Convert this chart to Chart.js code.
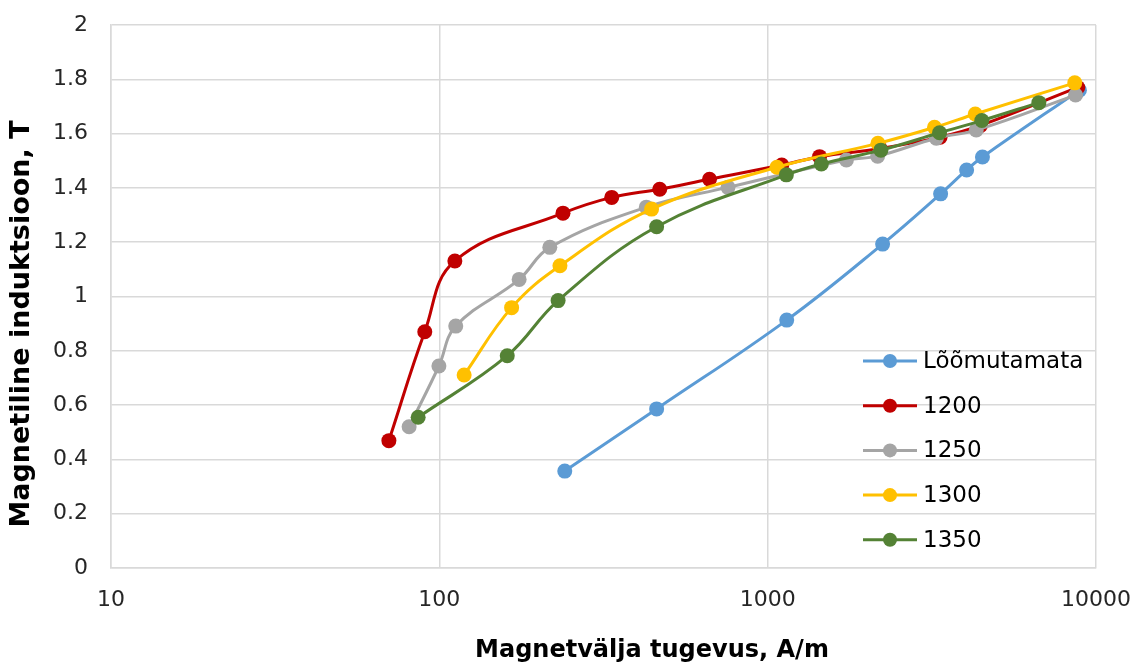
<!DOCTYPE html>
<html>
<head>
<meta charset="utf-8">
<script src="https://cdn.jsdelivr.net/npm/chart.js@4/dist/chart.umd.min.js"></script>
<style>
  html, body { margin: 0; padding: 0; background: #fff; }
  #wrap { width: 1137px; height: 664px; }
</style>
</head>
<body>
<div id="wrap"><canvas id="chart" width="1137" height="664"></canvas></div>
<script>
// values (x = field strength A/m, y = induction T)
const xTicks = [10, 100, 1000, 10000];

const annealedH = [241, 459, 1143, 2239, 3363, 4036, 4510, 8900];
const annealedB = [0.357, 0.586, 0.913, 1.193, 1.378, 1.466, 1.514, 1.760];

const h1200 = [70.2, 90.3, 111.5, 238, 335, 469, 665, 1104, 1439, 2200, 3350, 4450, 8800];
const b1200 = [0.469, 0.870, 1.131, 1.307, 1.365, 1.395, 1.432, 1.484, 1.515, 1.545, 1.587, 1.630, 1.770];

const h1250 = [80.9, 99.7, 112.2, 175, 217, 427, 757, 1737, 2162, 3263, 4318, 8665];
const b1250 = [0.520, 0.744, 0.891, 1.063, 1.181, 1.329, 1.402, 1.503, 1.517, 1.583, 1.613, 1.742];

const h1300 = [119, 166, 233, 443, 1067, 2167, 3222, 4288, 8617];
const b1300 = [0.711, 0.959, 1.113, 1.322, 1.476, 1.564, 1.623, 1.672, 1.787];

const h1350 = [86.2, 161, 230, 459, 1140, 1457, 2212, 3338, 4490, 6698];
const b1350 = [0.555, 0.782, 0.985, 1.257, 1.448, 1.488, 1.539, 1.603, 1.648, 1.714];

const seriesNames = ["Lõõmutamata", "1200", "1250", "1300", "1350"];
const seriesColors = ["#5B9BD5", "#C00000", "#A5A5A5", "#FFC000", "#548235"];

const xTitle = "Magnetvälja tugevus, A/m";
const yTitle = "Magnetiline induktsioon, T";

const FONT = "'DejaVu Sans', sans-serif";

function pts(xs, ys) {
    return xs.map((x, i) => ({ x: x, y: ys[i] }));
}

const allData = [
    pts(annealedH, annealedB),
    pts(h1200, b1200),
    pts(h1250, b1250),
    pts(h1300, b1300),
    pts(h1350, b1350)
];

const datasets = allData.map((d, i) => ({
    label: seriesNames[i],
    data: d,
    borderColor: seriesColors[i],
    backgroundColor: seriesColors[i],
    borderWidth: 3,
    pointRadius: 7.5,
    pointBorderWidth: 0,
    pointHoverRadius: 7.5,
    tension: 0.4,
    fill: false,
    order: seriesNames.length - i
}));

// legend inside the plot + axis titles placed where the original has them
const extras = {
    id: "extras",
    afterDraw(chart) {
        const ctx = chart.ctx;
        const x0 = 863, y0 = 361, step = 44.7;
        ctx.save();
        ctx.font = "23px " + FONT;
        ctx.textBaseline = "middle";
        seriesNames.forEach((name, i) => {
            const y = y0 + i * step;
            ctx.strokeStyle = seriesColors[i];
            ctx.lineWidth = 3;
            ctx.beginPath();
            ctx.moveTo(x0, y);
            ctx.lineTo(x0 + 54, y);
            ctx.stroke();
            ctx.fillStyle = seriesColors[i];
            ctx.beginPath();
            ctx.arc(x0 + 27, y, 7, 0, Math.PI * 2);
            ctx.fill();
            ctx.fillStyle = "#000";
            ctx.fillText(name, x0 + 60, y + 1);
        });

        ctx.fillStyle = "#000";
        ctx.textAlign = "center";
        ctx.font = "bold 24px " + FONT;
        ctx.fillText(xTitle, 652, 651);

        ctx.translate(22, 324);
        ctx.rotate(-Math.PI / 2);
        ctx.font = "bold 27px " + FONT;
        ctx.fillText(yTitle, 0, 0);
        ctx.restore();
    }
};

const ctx = document.getElementById("chart").getContext("2d");
new Chart(ctx, {
    type: "line",
    data: { datasets },
    plugins: [extras],
    options: {
        responsive: false,
        animation: false,
        layout: { padding: { top: 25, right: 41, left: 0, bottom: 0 } },
        plugins: {
            legend: { display: false },
            tooltip: { enabled: false }
        },
        scales: {
            x: {
                type: "logarithmic",
                min: 10,
                max: 10000,
                afterBuildTicks: scale => {
                    scale.ticks = xTicks.map(v => ({ value: v }));
                },
                afterFit: scale => {
                    scale.height = 96;
                    scale.paddingLeft = 0;
                    scale.paddingRight = 0;
                },
                ticks: {
                    autoSkip: false,
                    maxRotation: 0,
                    padding: 19,
                    color: "#262626",
                    font: { family: FONT, size: 22 },
                    callback: v => String(v)
                },
                grid: { color: "#d9d9d9", lineWidth: 1.5, drawTicks: false },
                border: { color: "#d9d9d9", width: 1.5 }
            },
            y: {
                min: 0,
                max: 2,
                afterFit: scale => {
                    scale.width = 111;
                    scale.paddingTop = 0;
                    scale.paddingBottom = 0;
                },
                ticks: {
                    stepSize: 0.2,
                    padding: 23,
                    color: "#262626",
                    font: { family: FONT, size: 22 },
                    callback: v => String(Number(v.toFixed(1)))
                },
                grid: { color: "#d9d9d9", lineWidth: 1.5, drawTicks: false },
                border: { color: "#d9d9d9", width: 1.5 }
            }
        }
    }
});
</script>
</body>
</html>
